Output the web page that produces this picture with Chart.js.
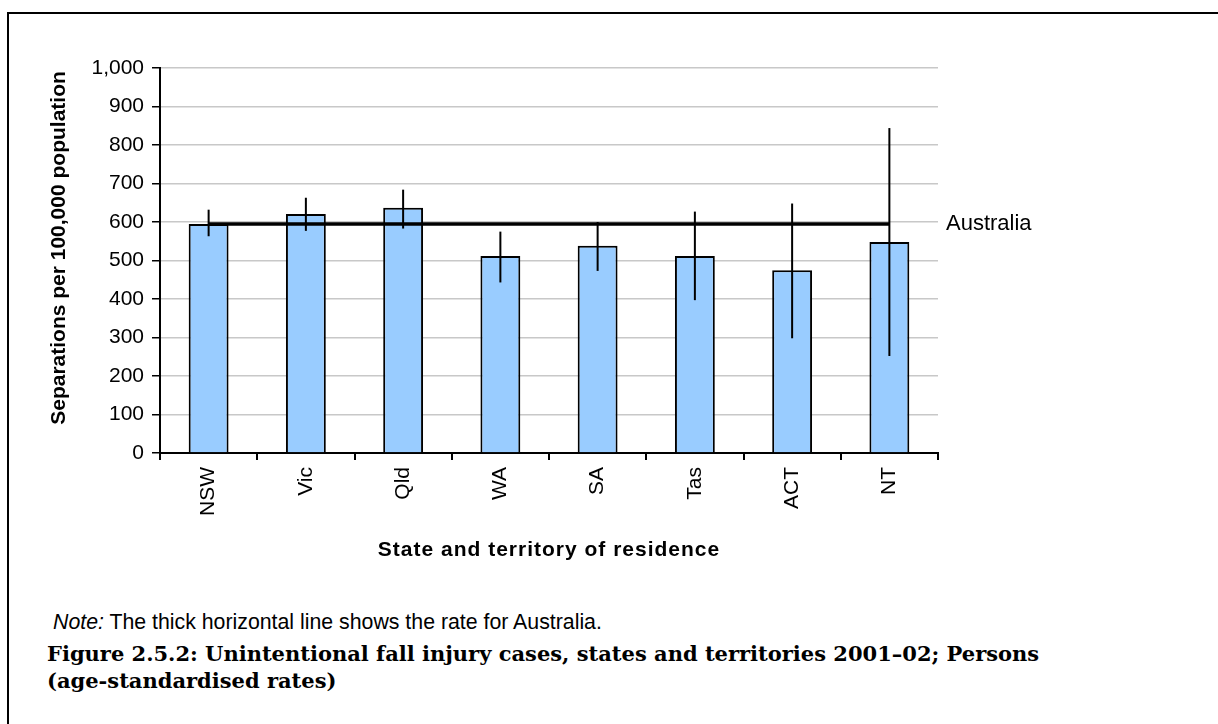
<!DOCTYPE html>
<html>
<head>
<meta charset="utf-8">
<script src="https://cdn.jsdelivr.net/npm/chart.js@4/dist/chart.umd.min.js"></script>
<style>
  body { margin: 0; background: #fff; width: 1218px; height: 724px; overflow: hidden; position: relative; }
  #frame { position: absolute; left: 7px; top: 12px; right: 0; bottom: 0; border-top: 2px solid #000; border-left: 2px solid #000; }
  #wrap { position: absolute; left: 0; top: 0; width: 1218px; height: 580px; }
  #note { position: absolute; left: 53px; top: 610px; font: 21.3px/24px "Liberation Sans", Arial, sans-serif; color: #000; }
  #caption { position: absolute; left: 47px; top: 640px; font: bold 21px/27px "DejaVu Serif", serif; color: #000; }
</style>
</head>
<body>
<div id="frame"></div>
<div id="wrap"><canvas id="chart"></canvas></div>
<div id="note"><i>Note:</i> The thick horizontal line shows the rate for Australia.</div>
<div id="caption">Figure 2.5.2: Unintentional fall injury cases, states and territories 2001–02; Persons<br>(age-standardised rates)</div>
<script>
const states = ['NSW', 'Vic', 'Qld', 'WA', 'SA', 'Tas', 'ACT', 'NT'];
const rates = [595, 621, 637, 512, 538, 512, 475, 548];
const ciLow = [563, 577, 583, 443, 473, 397, 298, 252];
const ciHigh = [632, 663, 684, 575, 600, 627, 648, 844];
const australia = [595, 595, 595, 595, 595, 595, 595, 595];
const yTicks = [0, 100, 200, 300, 400, 500, 600, 700, 800, 900, 1000];

const FONT = '"Liberation Sans", Arial, sans-serif';

// error bars, axis titles and the "Australia" label
const extras = {
  id: 'extras',
  afterDatasetsDraw(chart) {
    const ctx = chart.ctx;
    const x = chart.scales.x, y = chart.scales.y;
    const area = chart.chartArea;
    ctx.save();
    ctx.strokeStyle = '#000';
    ctx.lineWidth = 2;
    states.forEach((s, i) => {
      const px = x.getPixelForValue(i);
      ctx.beginPath();
      ctx.moveTo(px, y.getPixelForValue(ciLow[i]));
      ctx.lineTo(px, y.getPixelForValue(ciHigh[i]));
      ctx.stroke();
    });
    ctx.fillStyle = '#000';
    ctx.font = '22px ' + FONT;
    ctx.textAlign = 'left';
    ctx.textBaseline = 'middle';
    ctx.fillText('Australia', area.right + 8, y.getPixelForValue(australia[australia.length - 1]));

    // x title, slightly letter-spaced like the original
    ctx.font = 'bold 21px ' + FONT;
    ctx.textAlign = 'center';
    ctx.letterSpacing = '1px';
    ctx.fillText('State and territory of residence', (area.left + area.right) / 2, 550);
    ctx.letterSpacing = '0px';

    // y title
    ctx.translate(59, 248);
    ctx.rotate(-Math.PI / 2);
    ctx.fillText('Separations per 100,000 population', 0, 0);
    ctx.restore();
  }
};

new Chart(document.getElementById('chart'), {
  type: 'bar',
  data: {
    labels: states,
    datasets: [
      {
        type: 'line',
        label: 'Australia',
        data: australia,
        borderColor: '#000',
        borderWidth: 3.5,
        pointRadius: 0,
        fill: false,
        order: 1
      },
      {
        label: 'Rate',
        data: rates,
        backgroundColor: '#99ccff',
        borderColor: '#000',
        borderWidth: 2,
        barPercentage: 0.41,
        categoryPercentage: 1,
        order: 2
      }
    ]
  },
  options: {
    responsive: true,
    maintainAspectRatio: false,
    animation: false,
    layout: { padding: { left: 44, right: 280, top: 68, bottom: 15 } },
    plugins: {
      legend: { display: false },
      tooltip: { enabled: false }
    },
    scales: {
      x: {
        afterFit(scale) { scale.height = 112; },
        grid: { drawOnChartArea: false, color: '#000', lineWidth: 2, tickLength: 7 },
        border: { color: '#000', width: 2 },
        ticks: {
          minRotation: 90, maxRotation: 90, padding: 7, color: '#000',
          font: { family: FONT, size: 21 }
        }
      },
      y: {
        min: 0, max: 1000,
        afterFit(scale) { scale.width = 116; },
        afterBuildTicks(scale) { scale.ticks = yTicks.map(v => ({ value: v })); },
        grid: { color: '#c8c8c8', lineWidth: 1.5, tickColor: '#000', tickLength: 8 },
        border: { color: '#000', width: 2 },
        ticks: {
          padding: 8, color: '#000',
          font: { family: FONT, size: 21 },
          callback: v => v.toLocaleString('en-US')
        }
      }
    }
  },
  plugins: [extras]
});
</script>
</body>
</html>
